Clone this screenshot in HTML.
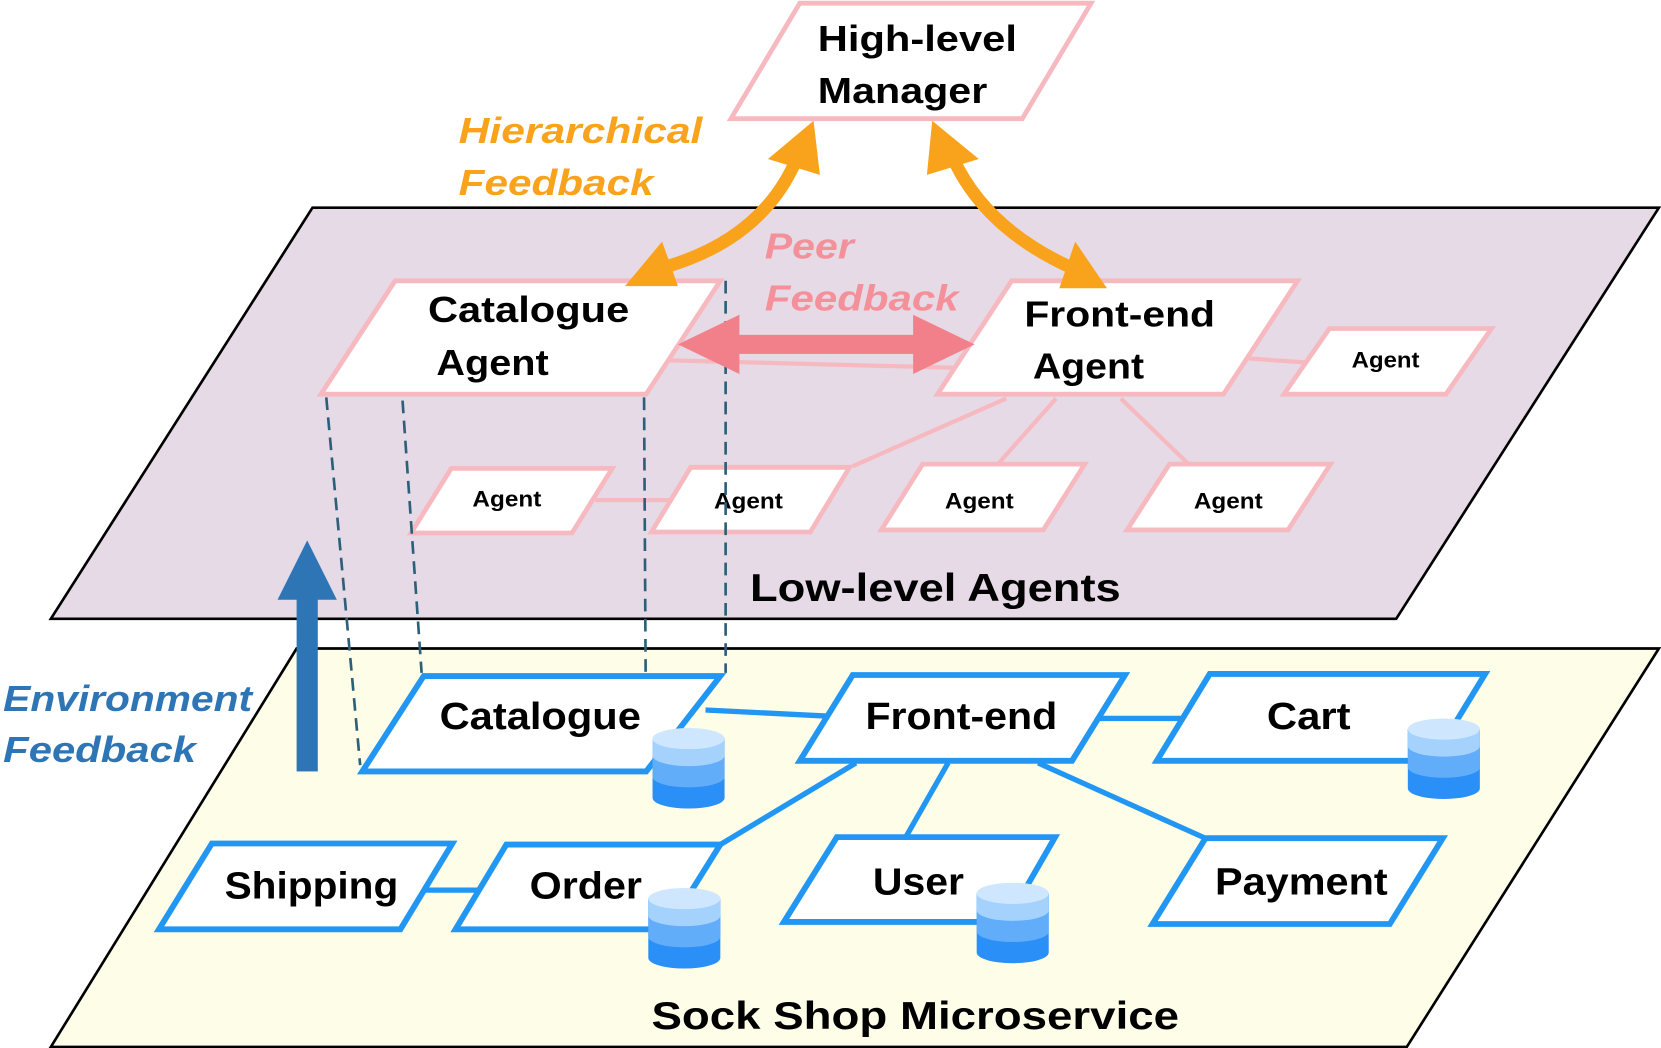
<!DOCTYPE html>
<html><head><meta charset="utf-8"><style>
html,body{margin:0;padding:0;background:#fff}
svg{display:block}
text{font-family:"Liberation Sans",sans-serif;font-weight:bold}
</style></head><body>
<svg width="1661" height="1048" viewBox="0 0 1568 989" preserveAspectRatio="none" xmlns="http://www.w3.org/2000/svg">
<defs>
<g id="db">
<path d="M-34,0 v56 a34,10 0 0 0 68,0 v-56 z" fill="#2a8ff7"/>
<path d="M-34,0 v36 a34,10 0 0 0 68,0 v-36 z" fill="#62adfa"/>
<path d="M-34,0 v16 a34,10 0 0 0 68,0 v-16 z" fill="#a5d2fd"/>
<ellipse cx="0" cy="0" rx="34" ry="10" fill="#cfe7fe"/>
</g>
</defs>
<polygon points="48,988 1328,988 1566,612 280,612" fill="#fdfde8" stroke="#000" stroke-width="2.5"/>
<polygon points="48,584 1318,584 1566,196 295,196" fill="#e6dae6" stroke="#000" stroke-width="2.5"/>

<g stroke="#f7b9c0" stroke-width="4" fill="none">
<line x1="628" y1="340" x2="900" y2="347"/>
<line x1="1175" y1="338" x2="1232" y2="342"/>
<line x1="950" y1="376" x2="805" y2="440"/>
<line x1="997" y1="376" x2="942" y2="438"/>
<line x1="1058" y1="376" x2="1122" y2="438"/>
<line x1="562" y1="472" x2="632" y2="472"/>
</g>

<g fill="#fff" stroke="#f7b9c0" stroke-width="4.5">
<polygon points="690,112 965,112 1030,3 755,3"/>
<polygon points="303,372 610,372 680,265 373,265"/>
<polygon points="885,372 1155,372 1225,265 955,265"/>
<polygon points="1212,372 1365,372 1408,310 1255,310"/>
<polygon points="388,503 540,503 578,442 426,442"/>
<polygon points="615,502 765,502 802,441 652,441"/>
<polygon points="832,500 985,500 1024,438 871,438"/>
<polygon points="1064,500 1216,500 1256,438 1104,438"/>
</g>
<g font-size="34" fill="#000" lengthAdjust="spacingAndGlyphs">
<text x="772" y="48" textLength="188" lengthAdjust="spacingAndGlyphs">High-level</text>
<text x="772" y="97" textLength="160" lengthAdjust="spacingAndGlyphs">Manager</text>
<text x="404" y="304" textLength="190" lengthAdjust="spacingAndGlyphs">Catalogue</text>
<text x="412" y="354" textLength="106" lengthAdjust="spacingAndGlyphs">Agent</text>
<text x="967" y="308" textLength="180" lengthAdjust="spacingAndGlyphs">Front-end</text>
<text x="975" y="357" textLength="105" lengthAdjust="spacingAndGlyphs">Agent</text>
</g>
<g font-size="21" fill="#000">
<text x="1276" y="347" textLength="64" lengthAdjust="spacingAndGlyphs">Agent</text>
<text x="446" y="478" textLength="65" lengthAdjust="spacingAndGlyphs">Agent</text>
<text x="674" y="480" textLength="65" lengthAdjust="spacingAndGlyphs">Agent</text>
<text x="892" y="480" textLength="65" lengthAdjust="spacingAndGlyphs">Agent</text>
<text x="1127" y="480" textLength="65" lengthAdjust="spacingAndGlyphs">Agent</text>
</g>

<g stroke="#2c5f7a" stroke-width="2.5" stroke-dasharray="12,7" fill="none">
<line x1="308" y1="375" x2="340" y2="722"/>
<line x1="380" y1="378" x2="398" y2="635"/>
<line x1="608" y1="375" x2="610" y2="725"/>
<line x1="685" y1="265" x2="685" y2="635"/>
</g>

<g fill="#f2808a">
<rect x="690" y="316" width="180" height="18"/>
<polygon points="640,325 698,297 698,353"/>
<polygon points="920,325 862,297 862,353"/>
</g>
<g stroke="#f9a21b" stroke-width="12" fill="none">
<path d="M752,150 Q720,225 628,252"/>
<path d="M900,150 Q930,215 1010,252"/>
</g>
<g fill="#f9a21b">
<polygon points="768,114 774,165 725,150"/>
<polygon points="590,270 625,228 640,270"/>
<polygon points="880,114 875,165 924,150"/>
<polygon points="1045,272 1000,272 1015,228"/>
</g>

<g font-size="34" font-style="italic">
<text x="433" y="135" fill="#f9a21b" textLength="230" lengthAdjust="spacingAndGlyphs">Hierarchical</text>
<text x="433" y="184" fill="#f9a21b" textLength="184" lengthAdjust="spacingAndGlyphs">Feedback</text>
<text x="722" y="244" fill="#f4909a" textLength="84" lengthAdjust="spacingAndGlyphs">Peer</text>
<text x="722" y="293" fill="#f4909a" textLength="183" lengthAdjust="spacingAndGlyphs">Feedback</text>
<text x="3" y="671" fill="#2e75b6" textLength="235" lengthAdjust="spacingAndGlyphs">Environment</text>
<text x="3" y="719" fill="#2e75b6" textLength="182" lengthAdjust="spacingAndGlyphs">Feedback</text>
</g>
<text x="708" y="567" font-size="37" fill="#000" textLength="350" lengthAdjust="spacingAndGlyphs">Low-level Agents</text>
<text x="615" y="971" font-size="37" fill="#000" textLength="498" lengthAdjust="spacingAndGlyphs">Sock Shop Microservice</text>

<rect x="280" y="560" width="20" height="168" fill="#2e75b6"/>
<polygon points="290,510 318,566 262,566" fill="#2e75b6"/>

<g stroke="#2196f3" stroke-width="5" fill="none">
<line x1="666" y1="670" x2="785" y2="676"/>
<line x1="1035" y1="678" x2="1118" y2="678"/>
<line x1="808" y1="720" x2="680" y2="797"/>
<line x1="895" y1="720" x2="855" y2="790"/>
<line x1="980" y1="720" x2="1140" y2="792"/>
<line x1="398" y1="840" x2="455" y2="840"/>
</g>
<g fill="#fff" stroke="#2196f3" stroke-width="5.5">
<polygon points="342,728 610,728 680,638 400,638"/>
<polygon points="755,718 1012,718 1062,637 805,637"/>
<polygon points="1092,718 1352,718 1402,636 1142,636"/>
<polygon points="150,877 378,877 427,796 200,796"/>
<polygon points="430,877 630,877 680,797 478,797"/>
<polygon points="740,870 950,870 996,790 790,790"/>
<polygon points="1088,872 1312,872 1362,791 1138,791"/>
</g>
<g font-size="36" fill="#000">
<text x="415" y="688" textLength="190" lengthAdjust="spacingAndGlyphs">Catalogue</text>
<text x="817" y="688" textLength="181" lengthAdjust="spacingAndGlyphs">Front-end</text>
<text x="1196" y="688" textLength="79" lengthAdjust="spacingAndGlyphs">Cart</text>
<text x="212" y="848" textLength="164" lengthAdjust="spacingAndGlyphs">Shipping</text>
<text x="500" y="848" textLength="106" lengthAdjust="spacingAndGlyphs">Order</text>
<text x="824" y="844" textLength="86" lengthAdjust="spacingAndGlyphs">User</text>
<text x="1147" y="844" textLength="163" lengthAdjust="spacingAndGlyphs">Payment</text>
</g>
<use href="#db" x="650" y="697"/>
<use href="#db" x="1363" y="688"/>
<use href="#db" x="646" y="848"/>
<use href="#db" x="956" y="843"/>
</svg>
</body></html>
